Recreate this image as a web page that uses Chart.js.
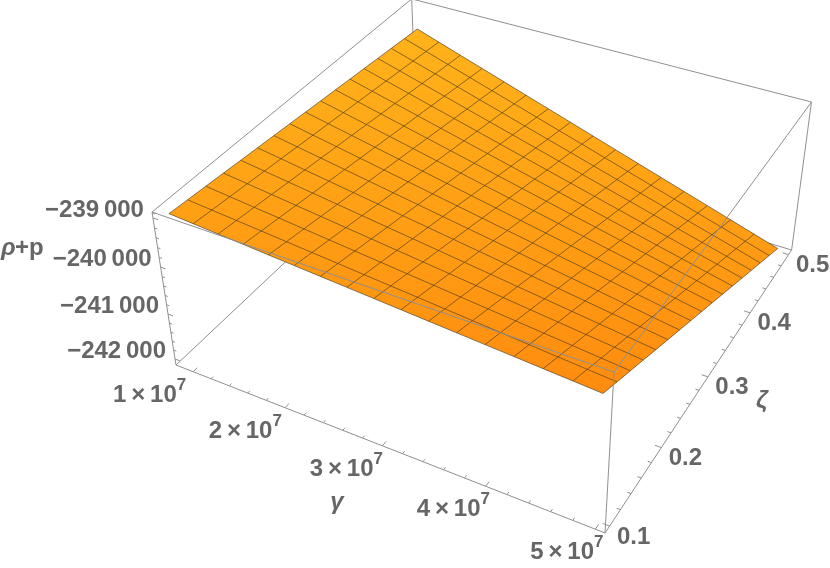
<!DOCTYPE html>
<html>
<head>
<meta charset="utf-8">
<title>rho+p surface</title>
<script src="https://cdn.jsdelivr.net/npm/chart.js@4/dist/chart.umd.min.js"></script>
<style>
html, body { margin: 0; padding: 0; background: #fff; }
canvas { display: block; }
</style>
</head>
<body>
<canvas id="surface" width="830" height="568"></canvas>
<script>
// plot range of the box
const gammaRange = [0.8075e7, 5.0856e7];
const zetaRange = [0.09167, 0.50833];
const zRange = [-242137, -238883];

// tick lists
const gammaMajor = [1e7, 2e7, 3e7, 4e7, 5e7];
const gammaMinor = [1.2e7, 1.4e7, 1.6e7, 1.8e7, 2.2e7, 2.4e7, 2.6e7, 2.8e7, 3.2e7, 3.4e7, 3.6e7, 3.8e7, 4.2e7, 4.4e7, 4.6e7, 4.8e7];
const zetaMajor = [0.1, 0.2, 0.3, 0.4, 0.5];
const zetaMinor = [0.12, 0.14, 0.16, 0.18, 0.22, 0.24, 0.26, 0.28, 0.32, 0.34, 0.36, 0.38, 0.42, 0.44, 0.46, 0.48];
const zMajor = [-239000, -240000, -241000, -242000];
const zMinor = [-238900, -239200, -239400, -239600, -239800, -240200, -240400, -240600, -240800, -241200, -241400, -241600, -241800];

const zLabels = ['\u2212239\u2009000', '\u2212240\u2009000', '\u2212241\u2009000', '\u2212242\u2009000'];
const zetaLabels = ['0.1', '0.2', '0.3', '0.4', '0.5'];
const gammaLabels = ['1', '2', '3', '4', '5'];

// mesh lines of the surface, rho+p read at each crossing (one row per gamma)
const gammaGrid = [0.915e7, 1.168e7, 1.422e7, 1.675e7, 1.929e7, 2.182e7, 2.436e7, 2.689e7, 2.943e7, 3.196e7, 3.449e7, 3.703e7, 3.956e7, 4.21e7, 4.463e7, 4.717e7, 4.97e7];
const zetaGrid = [0.1, 0.125, 0.15, 0.175, 0.2, 0.225, 0.25, 0.275, 0.3, 0.325, 0.35, 0.375, 0.4, 0.425, 0.45, 0.475, 0.5];
const zGrid = [
	[-238948, -238978, -239007, -239037, -239066, -239096, -239125, -239155, -239184, -239214, -239243, -239273, -239302, -239332, -239361, -239391, -239420],
	[-238983, -239021, -239058, -239096, -239134, -239171, -239209, -239247, -239284, -239322, -239360, -239397, -239435, -239473, -239510, -239548, -239586],
	[-239018, -239064, -239110, -239156, -239202, -239247, -239293, -239339, -239385, -239431, -239477, -239522, -239568, -239614, -239660, -239706, -239752],
	[-239053, -239107, -239161, -239215, -239269, -239323, -239377, -239431, -239485, -239539, -239593, -239647, -239701, -239755, -239809, -239863, -239917],
	[-239089, -239151, -239213, -239275, -239337, -239399, -239461, -239524, -239586, -239648, -239710, -239772, -239834, -239897, -239959, -240021, -240083],
	[-239124, -239194, -239264, -239335, -239405, -239475, -239546, -239616, -239686, -239757, -239827, -239897, -239967, -240038, -240108, -240178, -240249],
	[-239159, -239237, -239316, -239394, -239473, -239551, -239630, -239708, -239787, -239865, -239944, -240022, -240101, -240179, -240258, -240336, -240415],
	[-239194, -239281, -239367, -239454, -239540, -239627, -239714, -239800, -239887, -239974, -240060, -240147, -240234, -240320, -240407, -240494, -240580],
	[-239229, -239324, -239419, -239513, -239608, -239703, -239798, -239893, -239988, -240082, -240177, -240272, -240367, -240462, -240556, -240651, -240746],
	[-239264, -239367, -239470, -239573, -239676, -239779, -239882, -239985, -240088, -240191, -240294, -240397, -240500, -240603, -240706, -240809, -240912],
	[-239299, -239410, -239522, -239633, -239744, -239855, -239966, -240077, -240188, -240300, -240411, -240522, -240633, -240744, -240855, -240966, -241078],
	[-239334, -239454, -239573, -239692, -239812, -239931, -240050, -240170, -240289, -240408, -240527, -240647, -240766, -240885, -241005, -241124, -241243],
	[-239370, -239497, -239624, -239752, -239879, -240007, -240134, -240262, -240389, -240517, -240644, -240772, -240899, -241027, -241154, -241282, -241409],
	[-239405, -239540, -239676, -239812, -239947, -240083, -240218, -240354, -240490, -240625, -240761, -240897, -241032, -241168, -241304, -241439, -241575],
	[-239440, -239584, -239727, -239871, -240015, -240159, -240303, -240446, -240590, -240734, -240878, -241022, -241165, -241309, -241453, -241597, -241741],
	[-239475, -239627, -239779, -239931, -240083, -240235, -240387, -240539, -240691, -240843, -240994, -241146, -241298, -241450, -241602, -241754, -241906],
	[-239510, -239670, -239830, -239990, -240151, -240311, -240471, -240631, -240791, -240951, -241111, -241271, -241432, -241592, -241752, -241912, -242072]
];

// camera, fitted to the box
function project(gamma, zeta, z) {
	const u = (gamma - gammaRange[0]) / (gammaRange[1] - gammaRange[0]);
	const v = (zeta - zetaRange[0]) / (zetaRange[1] - zetaRange[0]);
	const w = (z - zRange[0]) / (zRange[1] - zRange[0]);
	const d = 1 - 0.1184 * u + 0.2034 * v - 0.0691 * w;
	return {
		x: (176 + 357.4 * u + 325.5 * v - 34.5 * w) / d,
		y: (365 + 104.9 * u - 198.65 * v - 167.6 * w) / d
	};
}

function lineSet(points, color, width, order) {
	return { data: points, showLine: true, borderColor: color, borderWidth: width, pointRadius: 0, fill: false, tension: 0, order: order };
}

const boxColor = '#8f8f8f';
const [g0, g1] = gammaRange;
const [s0, s1] = zetaRange;
const [z0, z1] = zRange;
const datasets = [];
const canvasCtx = document.getElementById('surface').getContext('2d');

function boxEdge(a, b, order) {
	datasets.push(lineSet([project(a[0], a[1], a[2]), project(b[0], b[1], b[2])], boxColor, 1, order));
}

// edges behind the surface
boxEdge([g0, s0, z0], [g0, s1, z0], 5);
boxEdge([g0, s1, z0], [g1, s1, z0], 5);
boxEdge([g0, s1, z0], [g0, s1, z1], 5);
boxEdge([g0, s0, z1], [g0, s1, z1], 5);
boxEdge([g0, s1, z1], [g1, s1, z1], 5);
boxEdge([g1, s1, z0], [g1, s1, z1], 5);

// surface outline, filled
const surfaceFill = canvasCtx.createLinearGradient(0, 29, 0, 393);
surfaceFill.addColorStop(0, '#ffb31a');
surfaceFill.addColorStop(1, '#ff8c0f');
const outline = [];
for (let i = 0; i <= 16; i++) outline.push(project(gammaGrid[i], zetaGrid[0], zGrid[i][0]));
for (let j = 1; j <= 16; j++) outline.push(project(gammaGrid[16], zetaGrid[j], zGrid[16][j]));
for (let i = 15; i >= 0; i--) outline.push(project(gammaGrid[i], zetaGrid[16], zGrid[i][16]));
for (let j = 15; j >= 0; j--) outline.push(project(gammaGrid[0], zetaGrid[j], zGrid[0][j]));
datasets.push({ data: outline, showLine: true, pointRadius: 0, tension: 0, borderWidth: 0, fill: 'shape', backgroundColor: surfaceFill, order: 4 });

// mesh lines
const meshColor = 'rgba(70,55,30,0.7)';
for (let i = 0; i <= 16; i++) {
	datasets.push(lineSet(zetaGrid.map((s, j) => project(gammaGrid[i], s, zGrid[i][j])), meshColor, 0.9, 3));
	datasets.push(lineSet(gammaGrid.map((g, j) => project(g, zetaGrid[i], zGrid[j][i])), meshColor, 0.9, 3));
}

// edges in front of the surface
boxEdge([g0, s0, z1], [g1, s0, z1], 2);
boxEdge([g1, s0, z1], [g1, s1, z1], 2);
boxEdge([g1, s0, z0], [g1, s0, z1], 2);
boxEdge([g0, s0, z0], [g0, s0, z1], 2);
boxEdge([g0, s0, z0], [g1, s0, z0], 2);
boxEdge([g1, s0, z0], [g1, s1, z0], 2);

// ticks
gammaMajor.forEach(t => boxEdge([t, s0, z0], [t, s0 + 0.006, z0], 1));
gammaMinor.forEach(t => boxEdge([t, s0, z0], [t, s0 + 0.0033, z0], 1));
zetaMajor.forEach(t => boxEdge([g1, t, z0], [g1 - 6e5, t, z0], 1));
zetaMinor.forEach(t => boxEdge([g1, t, z0], [g1 - 3.4e5, t, z0], 1));
zMajor.forEach(t => boxEdge([g0, s0, t], [g0 + 5.5e5, s0, t], 1));
zMinor.forEach(t => boxEdge([g0, s0, t], [g0 + 3e5, s0, t], 1));

// tick labels and axis titles as canvas text
const labelPlugin = {
	id: 'boxLabels',
	afterDraw(chart) {
		const ctx = chart.ctx;
		const sx = chart.scales.x, sy = chart.scales.y;
		const at = p => ({ x: sx.getPixelForValue(p.x), y: sy.getPixelForValue(p.y) });
		ctx.save();
		ctx.fillStyle = '#666666';
		ctx.textBaseline = 'middle';
		ctx.font = 'bold 24px "Liberation Sans"';

		ctx.textAlign = 'right';
		zMajor.forEach((t, i) => {
			const p = at(project(g0, s0, t));
			ctx.fillText(zLabels[i], p.x - 9, p.y - 8);
		});

		ctx.textAlign = 'center';
		zetaMajor.forEach((t, i) => {
			const p = at(project(g1, t, z0));
			ctx.fillText(zetaLabels[i], p.x + 24, p.y + 11);
		});

		ctx.textAlign = 'left';
		gammaMajor.forEach((t, i) => {
			const p = at(project(t, s0, z0));
			const cx = p.x - 44 + 3.75 * i;
			const cy = p.y + 23.5;
			ctx.font = 'bold 24px "Liberation Sans"';
			const txt = gammaLabels[i] + '\u2009\u00d7\u200910';
			const w = ctx.measureText(txt).width;
			ctx.fillText(txt, cx - 36, cy);
			ctx.font = 'bold 17px "Liberation Sans"';
			ctx.fillText('7', cx - 36 + w, cy - 10);
		});

		ctx.textAlign = 'center';
		ctx.font = 'italic bold 24px "Liberation Sans"';
		ctx.fillText('\u03b3', 337, 502);
		ctx.fillText('\u03b6', 762, 401);
		ctx.textAlign = 'left';
		ctx.fillText('\u03c1', 1, 248);
		ctx.font = 'bold 24px "Liberation Sans"';
		ctx.fillText('+p', 15, 248);
		ctx.restore();
	}
};

new Chart(canvasCtx, {
	type: 'scatter',
	data: { datasets: datasets },
	options: {
		responsive: false,
		animation: false,
		layout: { padding: 0 },
		plugins: { legend: { display: false }, tooltip: { enabled: false }, title: { display: false } },
		scales: {
			x: { type: 'linear', display: false, min: 0, max: 830 },
			y: { type: 'linear', display: false, min: 0, max: 568, reverse: true }
		}
	},
	plugins: [labelPlugin]
});
</script>
</body>
</html>
